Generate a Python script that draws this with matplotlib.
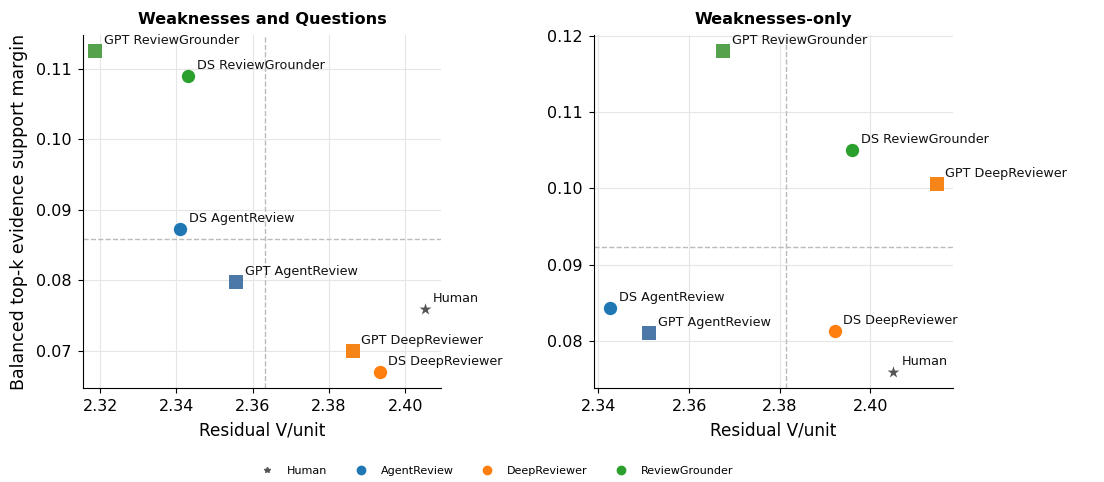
import matplotlib.pyplot as plt
from matplotlib.lines import Line2D
import numpy as np

# Data
names = ["Human", "DS AgentReview", "GPT AgentReview", "DS DeepReviewer",
         "GPT DeepReviewer", "DS ReviewGrounder", "GPT ReviewGrounder"]

wq_x = [2.4051, 2.3410, 2.3557, 2.3934, 2.3863, 2.3431, 2.3187]
wq_y = [0.0759, 0.08735, 0.0798, 0.0670, 0.0700, 0.10896, 0.11255]

wo_x = [2.4050, 2.3426, 2.3512, 2.3922, 2.4146, 2.3960, 2.36756]
wo_y = [0.0760, 0.08433, 0.08109, 0.0813, 0.10058, 0.10507, 0.11804]

legend_names = ["Human", "AgentReview", "DeepReviewer", "ReviewGrounder"]

colors = {"Human": "#555555",
          "DS AgentReview": "#1f77b4", "GPT AgentReview": "#4c78a8",
          "DS DeepReviewer": "#ff7f0e", "GPT DeepReviewer": "#f58518",
          "DS ReviewGrounder": "#2ca02c", "GPT ReviewGrounder": "#54a24b"}
fam_colors = {"Human": "#555555", "AgentReview": "#1f77b4",
              "DeepReviewer": "#ff7f0e", "ReviewGrounder": "#2ca02c"}


def marker_for(name):
    if name == "Human":
        return "*"
    if name.startswith("GPT"):
        return "s"
    return "o"


def panel(ax, xs, ys, title):
    for n, x, y in zip(names, xs, ys):
        m = marker_for(n)
        s = 80 if m == "*" else 92
        ax.scatter(x, y, marker=m, s=s, color=colors[n], zorder=3, linewidths=0)
        ax.annotate(n, (x, y), xytext=(6, 5), textcoords="offset points",
                    fontsize=9.2, color="#111111")
    # mean lines
    ax.axvline(np.mean(xs), color="#bbbbbb", ls="--", lw=1, zorder=1)
    ax.axhline(np.mean(ys), color="#bbbbbb", ls="--", lw=1, zorder=1)
    ax.grid(True, color="#e6e6e6", lw=0.8, zorder=0)
    ax.set_axisbelow(True)
    ax.spines["top"].set_visible(False)
    ax.spines["right"].set_visible(False)
    ax.set_title(title, fontsize=11.6, fontweight="bold", pad=8)
    ax.set_xlabel("Residual V/unit", fontsize=12.2, labelpad=5)
    ax.tick_params(labelsize=11.5, pad=4.5)


fig = plt.figure(figsize=(11.04, 4.82), dpi=100)
ax1 = fig.add_axes([0.0752, 0.195, 0.3243, 0.7324])
ax2 = fig.add_axes([0.538, 0.195, 0.3252, 0.7324])

panel(ax1, wq_x, wq_y, "Weaknesses and Questions")
ax1.set_xlim(2.3155, 2.4094)
ax1.set_ylim(0.06475, 0.1148)
ax1.set_xticks([2.32, 2.34, 2.36, 2.38, 2.40])
ax1.set_yticks([0.07, 0.08, 0.09, 0.10, 0.11])
ax1.set_ylabel("Balanced top-k evidence support margin", fontsize=12.5, labelpad=6)

panel(ax2, wo_x, wo_y, "Weaknesses-only")
ax2.set_xlim(2.339, 2.4182)
ax2.set_ylim(0.07385, 0.1201)
ax2.set_xticks([2.34, 2.36, 2.38, 2.40])
ax2.set_yticks([0.08, 0.09, 0.10, 0.11, 0.12])

handles = []
for fam in legend_names:
    m = "*" if fam == "Human" else "o"
    ms = 4 if fam == "Human" else 6
    handles.append(Line2D([], [], marker=m, ls="", color=fam_colors[fam],
                          markersize=ms, label=fam))
fig.legend(handles=handles, loc="center", bbox_to_anchor=(0.448, 0.023), ncol=4,
           frameon=False, fontsize=8, columnspacing=2.0)

fig.savefig("out.png", dpi=100)
